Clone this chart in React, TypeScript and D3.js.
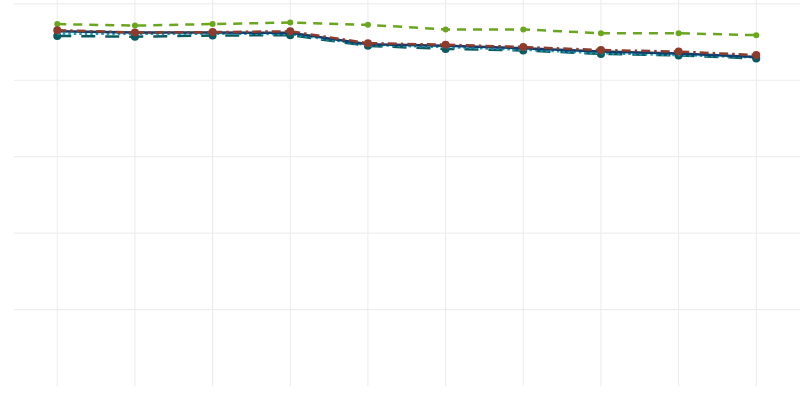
import React, { useEffect, useRef } from "react";
import * as d3 from "d3";

const categories = ["1", "2", "3", "4", "5", "6", "7", "8", "9", "10"];

const seriesGreen = [94.7, 94.3, 94.7, 95.1, 94.5, 93.3, 93.3, 92.3, 92.3, 91.8];
const seriesRed = [93.1, 92.5, 92.6, 92.8, 89.7, 89.3, 88.7, 87.9, 87.5, 86.6];
const seriesBlue = [92.8, 92.5, 92.5, 92.4, 89.4, 89.0, 88.4, 87.5, 87.0, 86.1];
const seriesTeal = [92.2, 92.2, 92.2, 92.1, 89.2, 88.7, 88.0, 87.1, 86.6, 86.0];
const seriesDarkTeal = [91.6, 91.4, 91.7, 91.8, 89.0, 88.2, 87.8, 86.9, 86.5, 85.7];

const yTicks = [0, 20, 40, 60, 80, 100];

interface ISeries {
  values: number[];
  color: string;
  dash: string;
  radius: number;
}

const series: ISeries[] = [
  { values: seriesGreen, color: "#6aa61e", dash: "9,7", radius: 3 },
  { values: seriesDarkTeal, color: "#0b5a60", dash: "14,10", radius: 4 },
  { values: seriesTeal, color: "#1a9cb8", dash: "2.5,3", radius: 0 },
  { values: seriesBlue, color: "#0c3f6e", dash: "none", radius: 0 },
  { values: seriesRed, color: "#8c3b2c", dash: "9,4,2.5,4", radius: 4 },
];

const width = 800,
  height = 400;
const plot = { left: 14, right: 800, top: 0, bottom: 386 };

export default function App(): JSX.Element {
  const ref = useRef<SVGSVGElement>(null);

  useEffect(() => {
    if (!ref.current) return;
    const svg = d3.select(ref.current);
    svg.selectAll("*").remove();

    const x = d3
      .scaleLinear()
      .domain([-0.557, categories.length - 0.437])
      .range([plot.left, plot.right]);
    const y = d3.scaleLinear().domain([0, 101]).range([plot.bottom, plot.top]);

    const grid = svg.append("g");
    grid
      .selectAll(".vgrid")
      .data(categories)
      .enter()
      .append("line")
      .attr("x1", (d, i) => x(i))
      .attr("x2", (d, i) => x(i))
      .attr("y1", plot.top)
      .attr("y2", plot.bottom)
      .attr("stroke", "#ebebeb")
      .attr("stroke-width", 1);

    grid
      .selectAll(".hgrid")
      .data(yTicks.filter((t) => t > 0))
      .enter()
      .append("line")
      .attr("x1", plot.left)
      .attr("x2", plot.right)
      .attr("y1", (d) => y(d))
      .attr("y2", (d) => y(d))
      .attr("stroke", "#ebebeb")
      .attr("stroke-width", 1);

    const line = d3
      .line<number>()
      .x((d, i) => x(i))
      .y((d) => y(d));

    series.forEach((s) => {
      const g = svg.append("g");
      g.append("path")
        .datum(s.values)
        .attr("d", line)
        .attr("fill", "none")
        .attr("stroke", s.color)
        .attr("stroke-width", 2.5)
        .attr("stroke-dasharray", s.dash);

      if (s.radius > 0) {
        g.selectAll("circle")
          .data(s.values)
          .enter()
          .append("circle")
          .attr("cx", (d, i) => x(i))
          .attr("cy", (d) => y(d))
          .attr("r", s.radius)
          .attr("fill", s.color);
      }
    });
  }, []);

  return (
    <svg
      ref={ref}
      width={width}
      height={height}
      style={{ position: "absolute", left: 0, top: 0, background: "#fff" }}
    ></svg>
  );
}
